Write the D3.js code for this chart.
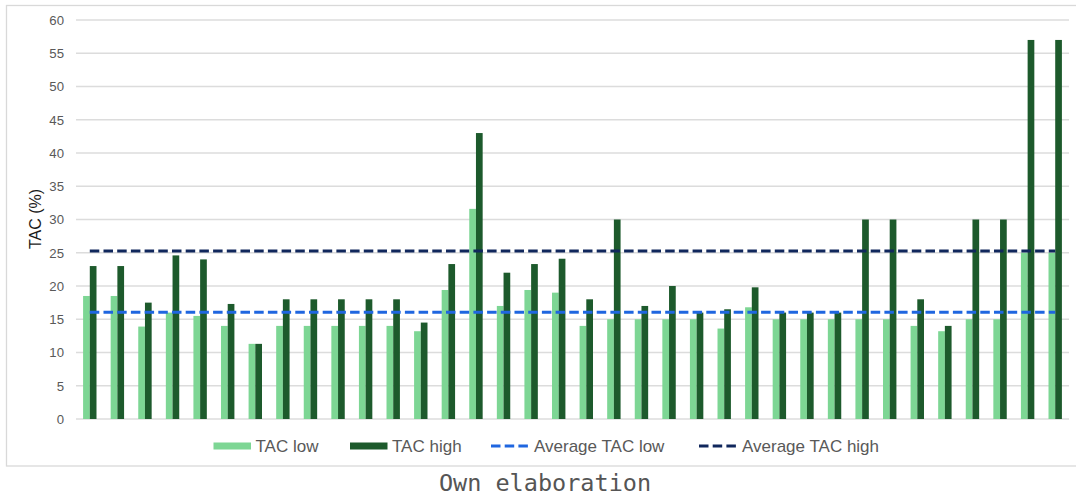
<!DOCTYPE html>
<html>
<head>
<meta charset="utf-8">
<script src="https://cdn.jsdelivr.net/npm/d3@7"></script>
<style>
  html, body { margin: 0; padding: 0; background: #fff; }
  svg { display: block; }
  svg text { font-family: "Liberation Sans", Arial, sans-serif; }
  svg text.note { font-family: "DejaVu Sans Mono", monospace; }
</style>
</head>
<body>
<svg id="chart" width="1076" height="498"></svg>
<script>
// Fishery stocks (one group of bars per stock)
const categories = ["1","2","3","4","5","6","7","8","9","10","11","12",
  "13","14","15","16","17","18","19","20","21","22","23","24",
  "25","26","27","28","29","30","31","32","33","34","35","36"];

// TAC low / TAC high, in %
const tacLow = [18.5, 18.5, 13.9, 16.0, 15.5, 14.0, 11.3, 14.0, 14.0, 14.0, 14.0, 14.0,
  13.2, 19.4, 31.6, 17.0, 19.4, 19.0, 14.0, 15.0, 15.0, 15.0, 15.0, 13.6,
  16.8, 15.0, 15.0, 15.0, 15.0, 15.0, 14.0, 13.2, 15.0, 15.0, 25.0, 25.0];
const tacHigh = [23.0, 23.0, 17.5, 24.6, 24.0, 17.3, 11.3, 18.0, 18.0, 18.0, 18.0, 18.0,
  14.5, 23.3, 43.0, 22.0, 23.3, 24.1, 18.0, 30.0, 17.0, 20.0, 16.0, 16.5,
  19.8, 16.0, 16.0, 16.0, 30.0, 30.0, 18.0, 14.0, 30.0, 30.0, 57.0, 57.0];

// Average levels
const avgLow = 16.05;
const avgHigh = 25.25;

const yTicks = [0, 5, 10, 15, 20, 25, 30, 35, 40, 45, 50, 55, 60];

const colors = {
  low: "#7dd694",
  high: "#1d5a2c",
  avgLow: "#1f66e0",
  avgHigh: "#10275c"
};

const svg = d3.select("#chart");

// outer frame
svg.append("rect")
  .attr("x", 6.5).attr("y", 5.5)
  .attr("width", 1080).attr("height", 460.5)
  .attr("fill", "none").attr("stroke", "#d9d9d9").attr("stroke-width", 1.3);

const plot = { left: 76, right: 1069, top: 20, bottom: 419 };

const x = d3.scaleBand().domain(categories).range([plot.left, plot.right]).padding(0);
const groupW = x.bandwidth() * 0.486;
const sub = d3.scaleBand().domain(["low", "high"]).range([0, groupW]).padding(0);
const y = d3.scaleLinear().domain([0, 60]).range([plot.bottom, plot.top]);

// gridlines
svg.append("g").selectAll("line").data(yTicks).join("line")
  .attr("x1", plot.left).attr("x2", plot.right)
  .attr("y1", d => y(d)).attr("y2", d => y(d))
  .attr("stroke", "#dcdcdc").attr("stroke-width", 1.3);

// y tick labels
svg.append("g").selectAll("text").data(yTicks).join("text")
  .attr("x", 64).attr("y", d => y(d))
  .attr("dy", "0.36em")
  .attr("text-anchor", "end")
  .attr("font-size", 13.2)
  .attr("fill", "#595959")
  .text(d => d);

// y axis title
svg.append("text")
  .attr("transform", "translate(41,219) rotate(-90)")
  .attr("text-anchor", "middle")
  .attr("font-size", 16)
  .attr("fill", "#1a1a1a")
  .text("TAC (%)");

// bars
const groups = svg.append("g").selectAll("g").data(categories).join("g")
  .attr("transform", d => `translate(${x(d) + (x.bandwidth() - groupW) / 2},0)`);

groups.append("rect")
  .attr("x", sub("low"))
  .attr("width", sub.bandwidth())
  .attr("y", (d, i) => y(tacLow[i]))
  .attr("height", (d, i) => y(0) - y(tacLow[i]))
  .attr("fill", colors.low);

groups.append("rect")
  .attr("x", sub("high"))
  .attr("width", sub.bandwidth())
  .attr("y", (d, i) => y(tacHigh[i]))
  .attr("height", (d, i) => y(0) - y(tacHigh[i]))
  .attr("fill", colors.high);

// average lines across category centres
const cx = d => x(d) + x.bandwidth() / 2;
const avgLine = d3.line().x(d => cx(d.c)).y(d => y(d.v));

[[avgLow, colors.avgLow], [avgHigh, colors.avgHigh]].forEach(([v, col]) => {
  svg.append("path")
    .datum(categories.map(c => ({ c, v })))
    .attr("d", avgLine)
    .attr("fill", "none")
    .attr("stroke", col)
    .attr("stroke-width", 3)
    .attr("stroke-dasharray", "9.5,4.2");
});

// legend
const legendY = 446;
const legend = [
  { label: "TAC low", type: "rect", color: colors.low, x: 213.5 },
  { label: "TAC high", type: "rect", color: colors.high, x: 350 },
  { label: "Average TAC low", type: "dash", color: colors.avgLow, x: 491 },
  { label: "Average TAC high", type: "dash", color: colors.avgHigh, x: 699 }
];
const lg = svg.append("g").selectAll("g").data(legend).join("g")
  .attr("transform", d => `translate(${d.x},${legendY})`);

lg.filter(d => d.type === "rect").append("rect")
  .attr("x", 0).attr("y", -3.5).attr("width", 37.5).attr("height", 7)
  .attr("fill", d => d.color);

lg.filter(d => d.type === "dash").append("line")
  .attr("x1", 0).attr("x2", 39).attr("y1", 0).attr("y2", 0)
  .attr("stroke", d => d.color).attr("stroke-width", 3)
  .attr("stroke-dasharray", "9.5,4.2");

lg.append("text")
  .attr("x", d => d.type === "rect" ? 42 : 43)
  .attr("y", 0).attr("dy", "0.36em")
  .attr("font-size", 17)
  .attr("fill", "#595959")
  .text(d => d.label);

// source note
svg.append("text")
  .attr("class", "note")
  .attr("x", 545).attr("y", 491)
  .attr("text-anchor", "middle")
  .attr("font-size", 23.5)
  .attr("fill", "#555")
  .text("Own elaboration");
</script>
</body>
</html>
